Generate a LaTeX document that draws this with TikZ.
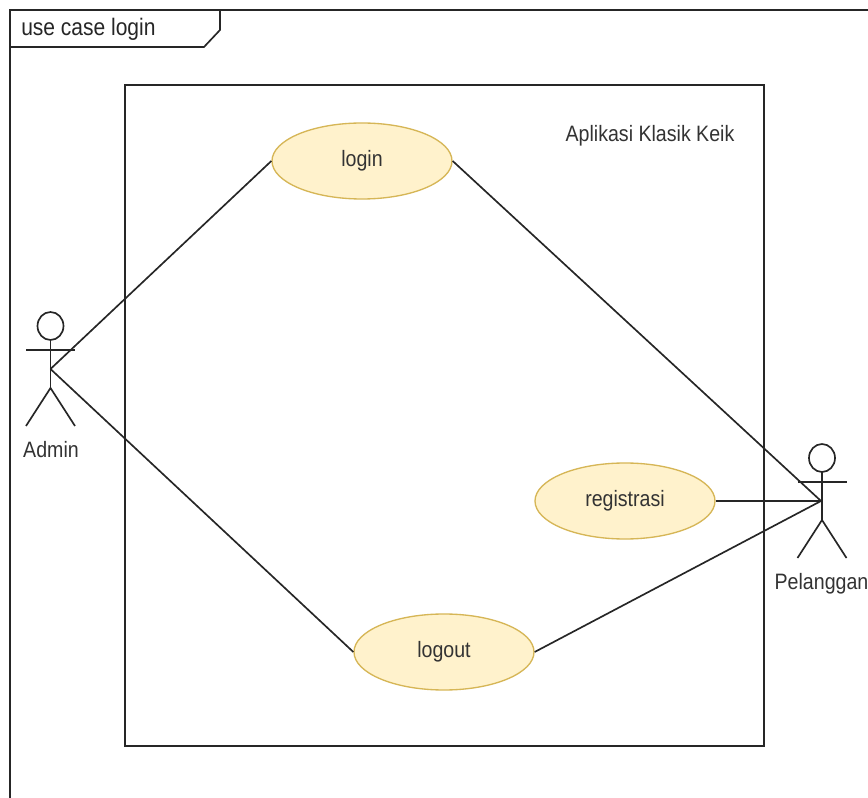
\documentclass[tikz,border=0pt]{standalone}
\usepackage{fontspec}
\setmainfont[FakeStretch=0.88]{Liberation Sans}
\usetikzlibrary{shapes.geometric}
\definecolor{ucfill}{HTML}{FFF2CC}
\definecolor{ucline}{HTML}{D6B656}
\definecolor{txt}{HTML}{333333}
\tikzset{
  x=0.75pt,y=-0.75pt,
  line/.style={draw=black!85,line width=1.25pt},
  usecase/.style={ellipse,draw=ucline,fill=ucfill,line width=1pt,minimum width=135pt,minimum height=57pt,inner sep=0pt,text=txt,font=\fontsize{16.7}{20}\selectfont},
  lbl/.style={text=txt,font=\fontsize{16.7}{20}\selectfont,inner sep=0pt},
  framelbl/.style={text=black!85,font=\fontsize{17.9}{21}\selectfont,inner sep=0pt},
}
\newcommand{\stickman}[3]{% name, x of body, top y of head
  \draw[line] (#2,#3+14) ellipse [x radius=13,y radius=14];
  \draw[line] (#2,#3+28) -- (#2,#3+76);
  \draw[line] (#2-24.5,#3+38) -- (#2+24.5,#3+38);
  \draw[line] (#2-24.5,#3+114) -- (#2,#3+76) -- (#2+24.5,#3+114);
}
\begin{document}
\begin{tikzpicture}
\useasboundingbox (0,0) rectangle (868,798);
\fill[white] (0,0) rectangle (868,798);
\draw[line] (10,798) -- (10,10) -- (868,10);
\draw[line] (10,47) -- (204,47) -- (220,30) -- (220,10);
\node[framelbl,anchor=west] (frame) at (21,29) {use case login};
\draw[line] (125,85) rectangle (764,746);
\node[lbl] (sys) at (650,136) {Aplikasi Klasik Keik};
\node[usecase] (login) at (362,161) {login};
\node[usecase] (reg) at (625,501) {registrasi};
\node[usecase] (logout) at (444,652) {logout};
\stickman{admin}{50.5}{312}
\stickman{pel}{822}{444}
\coordinate (adminc) at (50.5,369);
\coordinate (pelc) at (821,501);
\node[lbl] (adminl) at (51,450) {Admin};
\node[lbl] (pell) at (821.5,584) {Pelanggan};
\draw[line] (adminc) -- (login.west);
\draw[line] (adminc) -- (logout.west);
\draw[line] (login.east) -- (pelc);
\draw[line] (reg.east) -- (pelc);
\draw[line] (logout.east) -- (pelc);
\end{tikzpicture}
\end{document}
